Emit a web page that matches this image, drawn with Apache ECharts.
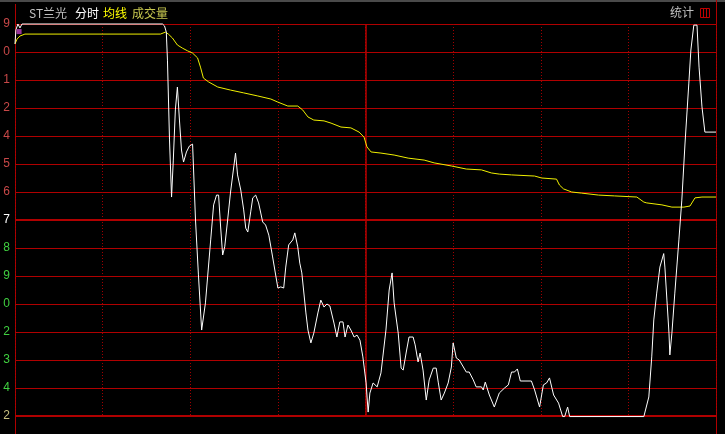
<!DOCTYPE html>
<html>
<head>
<meta charset="utf-8">
<script src="https://cdn.jsdelivr.net/npm/echarts@6/dist/echarts.min.js"></script>
<style>
html,body{margin:0;padding:0;background:#000;}
#chart{width:725px;height:434px;}
</style>
</head>
<body>
<div id="chart"></div>
<script>
// Tick labels (only last digit visible), top (value 7) to bottom (value -7)
var tickLabels = ['9','0','1','2','4','5','6','7','8','9','0','2','3','4','2'];
var tickValues = [7,6,5,4,3,2,1,0,-1,-2,-3,-4,-5,-6,-7];

// Minute of session (0..240)
var priceTimes = [0,0.3,1.0,1.7,2.4,50.5,51.2,51.8,52.2,52.9,53.6,54.2,54.9,55.6,56.3,57.0,57.7,58.7,59.7,60.8,61.8,62.8,63.9,65.2,67.0,68.0,69.0,69.7,70.4,71.1,71.8,72.8,73.8,75.5,76.2,77.3,78.3,79.0,79.7,80.7,81.4,82.4,83.4,84.8,85.8,86.9,88.2,90.0,91.0,92.0,92.7,93.7,95.1,95.8,96.8,97.5,98.2,99.6,100.3,101.3,102.3,103.7,104.7,105.8,106.8,107.8,109.2,110.2,111.2,112.3,113.0,114.0,115.0,116.1,117.1,118.1,119.1,120.2,120.9,121.5,122.6,122.9,124.0,125.3,127.0,128.1,129.1,129.8,131.2,132.2,132.9,133.9,134.9,136.3,137.0,138.0,138.7,139.7,140.8,141.8,143.2,144.2,144.9,145.9,147.0,148.3,149.4,150.0,151.1,152.1,153.5,154.5,155.5,156.9,157.9,159.7,160.3,161.0,162.4,164.1,165.8,167.6,168.9,170.0,171.0,172.0,173.0,176.8,177.9,179.6,180.9,182.0,183.0,184.4,186.1,187.5,188.2,189.2,189.9,215.3,217.0,218.0,218.7,219.7,220.8,222.1,222.5,223.2,223.9,224.2,224.9,225.9,227.3,228.3,229.4,230.7,231.4,232.4,233.5,234.2,235.2,236.2,237.6,240];
var priceValues = [6.29,6.79,7.0,6.86,7.0,7.0,6.93,6.71,5.71,2.86,0.82,2.14,3.93,4.75,3.57,2.5,2.07,2.43,2.64,2.71,0,-1.96,-3.93,-2.96,-0.71,0.54,0.89,0.89,-0.25,-1.25,-0.96,0,1.0,2.39,1.61,1.07,0.36,-0.29,-0.43,0.29,0.79,0.89,0.61,-0.07,-0.18,-0.54,-1.32,-2.43,-2.39,-2.43,-1.68,-0.89,-0.71,-0.46,-0.96,-1.54,-1.89,-3.32,-3.93,-4.39,-4.04,-3.32,-2.86,-3.11,-3.0,-3.07,-3.68,-4.18,-3.64,-3.64,-4.18,-3.75,-3.93,-4.18,-4.11,-4.29,-4.89,-5.82,-6.86,-6.18,-5.82,-5.79,-5.96,-5.46,-3.93,-2.5,-1.89,-2.96,-4.04,-5.29,-5.36,-4.75,-4.18,-4.18,-4.46,-5.07,-4.75,-5.36,-6.43,-5.71,-5.29,-5.29,-5.79,-6.43,-6.18,-5.82,-5.25,-4.39,-4.93,-5.0,-5.25,-5.43,-5.43,-5.71,-5.96,-5.96,-6.07,-5.79,-6.25,-6.68,-6.18,-6.0,-5.89,-5.43,-5.43,-5.32,-5.75,-5.75,-6.07,-6.68,-5.89,-5.82,-5.64,-6.25,-6.54,-7.02,-7.02,-6.68,-7.02,-7.02,-6.32,-4.89,-3.57,-2.61,-1.68,-1.2,-1.68,-2.86,-4.04,-4.82,-4.04,-2.61,-0.71,0.71,2.75,4.89,6.07,6.96,6.96,5.46,4.04,3.14,3.14,3.14];

var avgTimes = [0,0.7,1.7,3.4,49.8,51.5,52.5,53.9,55.6,57.3,59.1,60.8,62.5,63.5,64.5,66.3,69.4,73.8,78.3,83.1,87.6,90.0,93.4,96.8,98.5,100.3,102.3,105.8,108.2,111.6,115.0,117.8,119.5,120.5,121.9,125.3,129.8,134.6,140.1,143.5,149.4,154.5,159.7,163.1,165.8,170.0,177.9,180.3,185.4,186.4,187.8,190.6,194.0,199.8,205.3,212.9,215.3,216.3,221.5,224.9,229.0,231.1,232.8,235.2,240];
var avgValues = [6.29,6.46,6.57,6.64,6.64,6.71,6.64,6.5,6.25,6.14,6.04,5.96,5.79,5.46,5.07,4.93,4.75,4.64,4.54,4.43,4.32,4.21,4.07,4.07,3.93,3.68,3.57,3.54,3.46,3.32,3.29,3.14,2.96,2.61,2.43,2.39,2.32,2.21,2.14,2.04,1.93,1.82,1.79,1.68,1.64,1.61,1.57,1.5,1.46,1.25,1.11,1.0,0.96,0.89,0.86,0.82,0.64,0.61,0.54,0.46,0.46,0.5,0.79,0.82,0.82];

var markerTime = [1.4];
var markerValue = [6.73];

function zip(a,b){var r=[];for(var i=0;i<a.length;i++)r.push([a[i],b[i]]);return r;}

var labelColor = function(v){
  if (v > 0.5) return '#c84848';
  if (Math.abs(v) < 0.5) return '#ffffff';
  if (v < -6.5) return '#c8c080';
  return '#40d040';
};

var chart = echarts.init(document.getElementById('chart'), null, {renderer:'canvas'});
chart.setOption({
  backgroundColor:'#000000',
  animation:false,
  grid:{left:15,right:9,top:24,bottom:18,containLabel:false},
  xAxis:{type:'value',min:0,max:240,interval:30,
    axisLine:{show:false},axisTick:{show:false},axisLabel:{show:false},
    splitLine:{show:true,lineStyle:{color:'#a00000',type:[1,2],width:1}}},
  yAxis:{type:'value',min:-7,max:7,interval:1,
    axisLine:{show:false},axisTick:{show:false},
    axisLabel:{margin:5,fontSize:12,fontFamily:'Liberation Sans, Arial, sans-serif',
      formatter:function(v){var i=tickValues.indexOf(Math.round(v));return i>=0?tickLabels[i]:'';},
      color:function(v){return labelColor(Number(v));}},
    splitLine:{show:true,lineStyle:{color:'#b00000',width:1}}},
  graphic:[
    {type:'rect',shape:{x:0,y:0,width:725,height:2},style:{fill:'#4a4a4a'}},
    {type:'line',shape:{x1:15.5,y1:4,x2:15.5,y2:434},style:{stroke:'#b00000',lineWidth:1}},
    {type:'line',shape:{x1:716.5,y1:0,x2:716.5,y2:434},style:{stroke:'#b00000',lineWidth:1}},
    {type:'text',left:29,top:7,style:{text:'ST兰光',fill:'#c0c0c0',font:'12px "Noto Sans CJK SC", sans-serif'}},
    {type:'text',left:75,top:7,style:{text:'分时',fill:'#ffffff',font:'12px "Noto Sans CJK SC", sans-serif'}},
    {type:'text',left:103,top:7,style:{text:'均线',fill:'#ffff00',font:'12px "Noto Sans CJK SC", sans-serif'}},
    {type:'text',left:132,top:7,style:{text:'成交量',fill:'#c8c850',font:'12px "Noto Sans CJK SC", sans-serif'}},
    {type:'text',left:670,top:6,style:{text:'统计',fill:'#c0c0c0',font:'12px "Noto Sans CJK SC", sans-serif'}},
    {type:'rect',shape:{x:700.5,y:8.5,width:9,height:9},style:{fill:'none',stroke:'#c00000',lineWidth:1}},
    {type:'rect',shape:{x:703.5,y:8.5,width:3,height:9},style:{fill:'none',stroke:'#c00000',lineWidth:1}}
  ],
  series:[
    {type:'line',data:[],symbol:'none',z:1,
      markLine:{silent:true,symbol:'none',label:{show:false},z:1,
        data:[{yAxis:0,lineStyle:{color:'#b00000',width:2,type:'solid'}},
              {yAxis:-7,lineStyle:{color:'#b00000',width:2,type:'solid'}},
              {xAxis:120,lineStyle:{color:'#b80000',width:1.5,type:'solid'}}]}},
    {type:'line',data:zip(avgTimes,avgValues),symbol:'none',clip:false,
      lineStyle:{color:'#f0f000',width:1},z:3},
    {type:'line',data:zip(priceTimes,priceValues),symbol:'none',clip:false,
      lineStyle:{color:'#ffffff',width:1},z:4},
    {type:'scatter',data:zip(markerTime,markerValue),symbol:'rect',symbolSize:5,
      itemStyle:{color:'#c040c0'},z:5}
  ]
});
</script>
</body>
</html>
